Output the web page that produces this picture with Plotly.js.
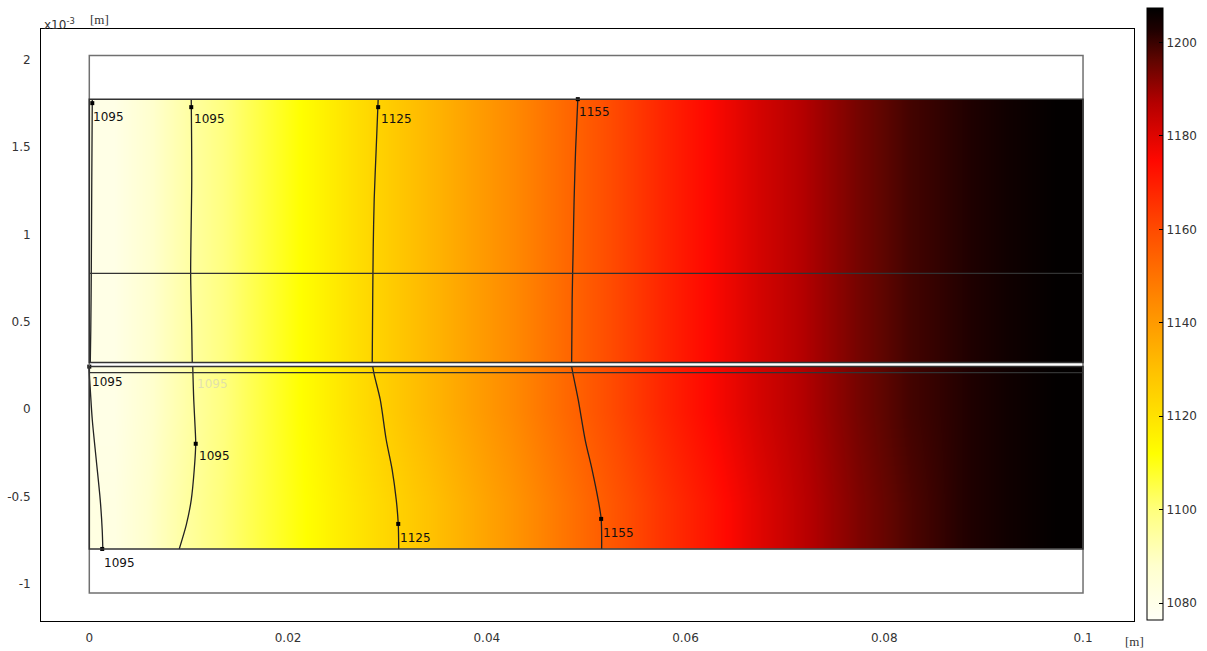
<!DOCTYPE html>
<html>
<head>
<meta charset="utf-8">
<script src="https://cdn.plot.ly/plotly-3.0.1.min.js"></script>
<style>html,body{margin:0;padding:0;background:#fff;}#chart{width:1207px;height:651px;}</style>
</head>
<body>
<div id="chart"></div>
<script>
// ---- data (x in m, y in 1e-3 m, temperature in K) ----
const xEdges = [0, 0.005, 0.01, 0.015, 0.02, 0.025, 0.03, 0.035, 0.04, 0.045, 0.05,
                0.055, 0.06, 0.065, 0.07, 0.075, 0.08, 0.085, 0.09, 0.095, 0.1];
const tempUpper = [1081, 1090, 1098, 1106, 1114, 1122, 1130, 1137, 1144, 1152,
                   1160, 1168, 1175, 1182, 1188, 1194, 1199, 1202, 1205, 1207];
const tempLowerBottom = [1082, 1091, 1099, 1106, 1113, 1120, 1127, 1134, 1141, 1149,
                         1157, 1165, 1172, 1180, 1187, 1193, 1198, 1202, 1205, 1207];
const yUpperEdges = [0.2665, 1.02, 1.7736];
const yLowerEdges = [-0.7994, -0.278, 0.2436];

// geometry boundaries
const outerBox = {x0: 0, x1: 0.1, y0: -1.0516, y1: 2.0236};
const upperDomain = {x0: 0, x1: 0.1, y0: 0.2665, y1: 1.7736};
const lowerDomain = {x0: 0, x1: 0.1, y0: -0.7994, y1: 0.2436};
const innerLines = [0.7765, 0.2092];

// contour lines
const contourA_x = [0.0003, 0.00025, 0.0002, 0.00015, 0.0001];
const contourA_y = [1.7736, 1.3152, 0.7765, 0.4556, 0.2665];
const contourB_x = [0.01026, 0.01031, 0.0102, 0.01031, 0.01036];
const contourB_y = [1.7736, 1.3152, 0.7765, 0.4556, 0.2665];
const contourC_x = [0.02907, 0.02887, 0.02867, 0.02857, 0.02852, 0.02847];
const contourC_y = [1.7736, 1.4871, 1.2006, 0.9140, 0.6275, 0.2665];
const contourD_x = [0.04916, 0.04894, 0.04879, 0.04869, 0.04859, 0.04854];
const contourD_y = [1.7736, 1.4871, 1.2006, 0.9140, 0.6275, 0.2665];
const contourE_x = [-0.00005, 0.0001, 0.0003, 0.0007, 0.0011, 0.0013, 0.00136];
const contourE_y = [0.2436, 0.1117, -0.0602, -0.2894, -0.5186, -0.6905, -0.7994];
const contourF_x = [0.01041, 0.01051, 0.01066, 0.01071, 0.01056, 0.01026, 0.00976, 0.00905];
const contourF_y = [0.2436, 0.0544, -0.1175, -0.1977, -0.3467, -0.5186, -0.6619, -0.7994];
const contourG_x = [0.02852, 0.02867, 0.02928, 0.02988, 0.03048, 0.03089, 0.03109, 0.03114];
const contourG_y = [0.2436, 0.1977, 0.0544, -0.1748, -0.3467, -0.5186, -0.6562, -0.7994];
const contourH_x = [0.04854, 0.04869, 0.0492, 0.0499, 0.0506, 0.05121, 0.05151, 0.05156];
const contourH_y = [0.2436, 0.1977, 0.0544, -0.1748, -0.3467, -0.5186, -0.6275, -0.7994];

// contour labels
const labelText = ["1095", "1095", "1125", "1155", "1095", "1095", "1125", "1155", "1095"];
const labelX = [0.0003, 0.01046, 0.02928, 0.0492, 0.0002, 0.01097, 0.03119, 0.05161, 0.0014];
const labelY = [1.6705, 1.6590, 1.6590, 1.6991, 0.1576, -0.2665, -0.7364, -0.7077, -0.8797];
const markerX = [0.0003, 0.01026, 0.02907, 0.04916, 0.0, 0.01071, 0.03109, 0.05151, 0.0013];
const markerY = [1.7507, 1.7278, 1.7278, 1.7736, 0.2436, -0.1977, -0.6562, -0.6275, -0.7994];

// axis ticks
const xTickVals = [0, 0.02, 0.04, 0.06, 0.08, 0.1];
const xTickText = ["0", "0.02", "0.04", "0.06", "0.08", "0.1"];
const yTickVals = [-1, -0.5, 0, 0.5, 1, 1.5, 2];
const yTickText = ["-1", "-0.5", "0", "0.5", "1", "1.5", "2"];
const cbarTickVals = [1080, 1100, 1120, 1140, 1160, 1180, 1200];
const tempMin = 1076.4, tempMax = 1207.4;

// ---- build ----
const traces = [];
traces.push({type: 'heatmap', x: xEdges, y: yUpperEdges, z: [tempUpper, tempUpper],
  coloraxis: 'coloraxis', zsmooth: 'best', hoverinfo: 'skip'});
traces.push({type: 'heatmap', x: xEdges, y: yLowerEdges, z: [tempLowerBottom, tempUpper],
  coloraxis: 'coloraxis', zsmooth: 'best', hoverinfo: 'skip'});

const contours = [[contourA_x, contourA_y], [contourB_x, contourB_y], [contourC_x, contourC_y],
  [contourD_x, contourD_y], [contourE_x, contourE_y], [contourF_x, contourF_y],
  [contourG_x, contourG_y], [contourH_x, contourH_y]];
contours.forEach(c => traces.push({type: 'scatter', mode: 'lines', x: c[0], y: c[1],
  line: {color: '#222', width: 1.3, shape: 'spline', smoothing: 0.8}, hoverinfo: 'skip', showlegend: false}));

traces.push({type: 'scatter', mode: 'markers', x: markerX, y: markerY,
  marker: {symbol: 'square', size: 4, color: '#000'}, hoverinfo: 'skip', showlegend: false});

const shapes = [];
const rectStyle = (b, col, w) => ({type: 'rect', xref: 'x', yref: 'y', x0: b.x0, x1: b.x1, y0: b.y0, y1: b.y1,
  line: {color: col, width: w}, fillcolor: 'rgba(0,0,0,0)', layer: 'above'});
shapes.push(rectStyle(outerBox, '#707070', 1.5));
shapes.push(rectStyle(upperDomain, '#333', 1.5));
shapes.push(rectStyle(lowerDomain, '#333', 1.5));
innerLines.forEach(yv => shapes.push({type: 'line', xref: 'x', yref: 'y', x0: 0, x1: 0.1, y0: yv, y1: yv,
  line: {color: '#333', width: 1.3}, layer: 'above'}));

const annotations = labelText.map((t, i) => ({x: labelX[i], y: labelY[i], xref: 'x', yref: 'y',
  text: t, showarrow: false, xanchor: 'left', yanchor: 'middle', xshift: -1,
  font: {family: 'DejaVu Sans', size: 12, color: '#111'}}));
annotations.push({x: 0.0106, y: 0.1461, xref: 'x', yref: 'y', text: '1095', showarrow: false,
  xanchor: 'left', yanchor: 'middle', font: {family: 'DejaVu Sans', size: 12, color: 'rgba(200,200,200,0.55)'}});
annotations.push({x: 0.001, y: 1.0, xref: 'paper', yref: 'paper', text: 'x10<sup>-3</sup>', showarrow: false,
  xanchor: 'left', yanchor: 'bottom', yshift: -5, font: {family: 'DejaVu Sans', size: 12, color: '#333'}});
annotations.push({x: 0.043, y: 1.0, xref: 'paper', yref: 'paper', text: '[m]', showarrow: false,
  xanchor: 'left', yanchor: 'bottom', yshift: 0, font: {family: 'Liberation Serif', size: 13, color: '#333'}});
annotations.push({x: 1.0, y: 0, xref: 'paper', yref: 'paper', text: '[m]', showarrow: false,
  xanchor: 'center', yanchor: 'top', yshift: -11, font: {family: 'Liberation Serif', size: 13, color: '#333'}});

const layout = {
  width: 1207, height: 651,
  margin: {l: 41, r: 73, t: 29, b: 30, autoexpand: false},
  paper_bgcolor: '#fff', plot_bgcolor: '#fff',
  showlegend: false,
  xaxis: {range: [-0.00486, 0.10513], tickvals: xTickVals, ticktext: xTickText, showgrid: false, zeroline: false,
    showline: true, mirror: true, linecolor: '#000', linewidth: 1, ticks: '', ticklabelstandoff: 6,
    tickfont: {family: 'DejaVu Sans', size: 12, color: '#333'}, automargin: false},
  yaxis: {range: [-1.2115, 2.1748], tickvals: yTickVals, ticktext: yTickText, showgrid: false, zeroline: false,
    showline: true, mirror: true, linecolor: '#000', linewidth: 1, ticks: '', ticklabelstandoff: 7,
    tickfont: {family: 'DejaVu Sans', size: 12, color: '#333'}, automargin: false},
  coloraxis: {cmin: tempMin, cmax: tempMax,
    colorscale: [
      [0, 'rgb(255,255,246)'], [0.089, 'rgb(255,255,205)'], [0.18, 'rgb(255,255,125)'],
      [0.272, 'rgb(255,255,0)'], [0.333, 'rgb(255,226,0)'], [0.409, 'rgb(255,192,0)'],
      [0.524, 'rgb(255,135,0)'], [0.638, 'rgb(255,75,0)'], [0.75, 'rgb(255,8,0)'],
      [0.845, 'rgb(180,0,0)'], [0.915, 'rgb(95,5,0)'], [0.965, 'rgb(30,0,0)'], [1, 'rgb(0,0,0)']],
    colorbar: {x: 1.0119, xanchor: 'left', y: 1.0355, yanchor: 'top', len: 612, lenmode: 'pixels',
      thickness: 16, thicknessmode: 'pixels', xpad: 0, ypad: 0, outlinecolor: '#000', outlinewidth: 1,
      tickvals: cbarTickVals, ticks: 'inside', ticklen: 4, tickcolor: '#000',
      tickfont: {family: 'DejaVu Sans', size: 12, color: '#333'}}
  },
  shapes: shapes,
  annotations: annotations
};

Plotly.newPlot('chart', traces, layout, {staticPlot: true, displayModeBar: false});
</script>
</body>
</html>
